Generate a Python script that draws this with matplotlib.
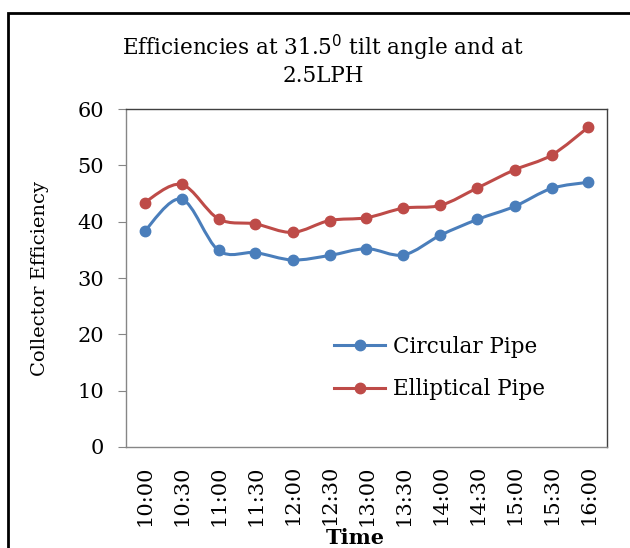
import matplotlib
matplotlib.use("Agg")
import matplotlib.pyplot as plt
from matplotlib.path import Path
from matplotlib.patches import PathPatch, Rectangle
from matplotlib.lines import Line2D
import numpy as np

times = ["10:00", "10:30", "11:00", "11:30", "12:00", "12:30", "13:00",
         "13:30", "14:00", "14:30", "15:00", "15:30", "16:00"]
circular = [38.3, 44.0, 34.9, 34.5, 33.2, 34.0, 35.2, 34.1, 37.6, 40.4, 42.7, 45.9, 47.0]
elliptical = [43.4, 46.6, 40.5, 39.6, 38.1, 40.2, 40.7, 42.4, 42.9, 46.0, 49.2, 51.8, 56.8]

blue = "#4A7EBB"
red = "#BE4B48"
font = "DejaVu Serif"
plt.rcParams['font.family'] = [font]

fig = plt.figure(figsize=(6.3, 5.48), dpi=100)
ax = fig.add_axes([126/630, 1-447/548, (607-126)/630, (447-109)/548])


def smooth_path(xs, ys):
    pts = np.column_stack([xs, ys]).astype(float)
    verts = [pts[0]]
    codes = [Path.MOVETO]
    n = len(pts)
    for i in range(n - 1):
        p0 = pts[i - 1] if i > 0 else pts[i]
        p1 = pts[i]
        p2 = pts[i + 1]
        p3 = pts[i + 2] if i + 2 < n else pts[i + 1]
        c1 = p1 + (p2 - p0) / 6.0
        c2 = p2 - (p3 - p1) / 6.0
        verts += [c1, c2, p2]
        codes += [Path.CURVE4] * 3
    return Path(verts, codes)


x = np.arange(len(times))
for ys, col in [(circular, blue), (elliptical, red)]:
    ax.add_patch(PathPatch(smooth_path(x, ys), facecolor="none", edgecolor=col, lw=2.2,
                           capstyle="round", joinstyle="round", zorder=2))
    ax.plot(x, ys, linestyle="none", marker="o", ms=7.5, color=col, zorder=3)

ax.set_xlim(-0.5, len(times) - 0.5)
ax.set_ylim(0, 60)
ax.set_yticks(range(0, 61, 10))
ax.set_xticks(x)
ax.set_xticklabels(times, rotation=90, fontsize=15)
ax.tick_params(axis="y", labelsize=15, length=6, color="#868686", direction="out", pad=10)
ax.tick_params(axis="x", length=0, pad=13)

for s in ["left", "bottom"]:
    ax.spines[s].set_color("#868686")
for s in ["top", "right"]:
    ax.spines[s].set_color("#404040")
for s in ax.spines.values():
    s.set_linewidth(1.0)

ax.set_ylabel("Collector Efficiency", fontsize=14)
ax.yaxis.set_label_coords(-0.16, 0.5)
fig.text(0.5645, 1 - 538/548, "Time", ha="center", va="center", fontsize=15, fontweight="bold")
fig.text(0.513, 1 - 60/548, "Efficiencies at 31.5$^{0}$ tilt angle and at\n2.5LPH",
         ha="center", va="center", fontsize=15.5, linespacing=1.12)

handles = [Line2D([], [], color=blue, lw=2.2, marker="o", ms=7.5),
           Line2D([], [], color=red, lw=2.2, marker="o", ms=7.5)]
ax.legend(handles, ["Circular Pipe", "Elliptical Pipe"], loc="lower left",
          bbox_to_anchor=(0.411, 0.106), frameon=False, fontsize=15.5,
          handlelength=2.33, handletextpad=0.37, labelspacing=0.95, borderpad=0)

fig.add_artist(Rectangle((8/630, -0.1), 2.0, (548-13)/548 + 0.1, transform=fig.transFigure,
                         fill=False, edgecolor="black", lw=2, clip_on=False))

fig.savefig("out.png", dpi=100)
